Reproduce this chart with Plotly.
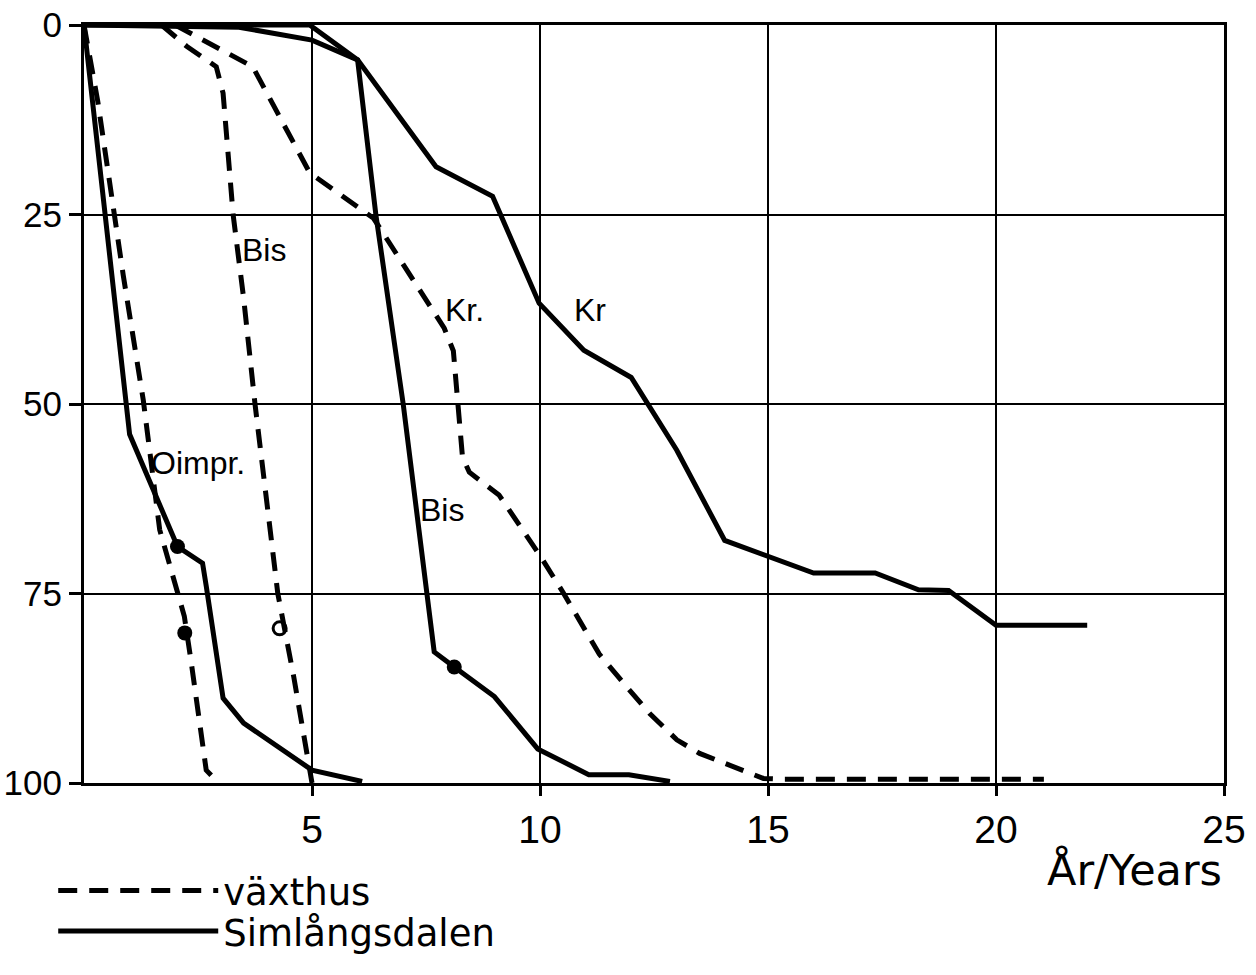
"""Lifetime curves of fence posts: växthus (dashed) vs Simlångsdalen (solid)."""

import plotly.graph_objects as go

# x = years, y = percent (0 at top)
# växthus (dashed)
oimpr_vx_x = [0, 0.3, 0.86, 1.3, 1.66, 2.2, 2.35, 2.68, 2.95]
oimpr_vx_y = [0, 10, 33, 49.5, 66.6, 78, 84, 98.3, 100]

bis_vx_x = [1.7, 2.25, 2.9, 3.05, 3.27, 3.5, 3.75, 4.05, 4.25, 4.6, 4.87, 5.0]
bis_vx_y = [0, 2.8, 5.5, 9, 25, 36, 50, 65, 75, 86, 95, 100]

kr_vx_x = [2.0, 3.7, 4.95, 6.35, 7.9, 8.1, 8.3, 8.45, 9.1, 10.0, 10.5, 11.3,
           11.9, 12.4, 13.0, 13.5, 14.9, 15.3, 21.05]
kr_vx_y = [0, 5.5, 19.5, 25.5, 40, 43, 57, 59, 62, 70, 74.8, 83,
           87.3, 90.8, 94.3, 96.1, 99.4, 99.5, 99.5]

# Simlångsdalen (solid)
oimpr_sim_x = [0, 1.0, 2.05, 2.6, 2.68, 3.05, 3.5, 5.0, 6.1]
oimpr_sim_y = [0, 54, 68.8, 71, 74, 88.8, 92.1, 98.3, 99.8]

bis_sim_x = [0, 4.95, 6.0, 6.4, 7.0, 7.5, 7.68, 8.12, 9.0, 9.95, 11.07, 11.95, 12.85]
bis_sim_y = [0, 0, 4.6, 25, 50, 74.5, 82.7, 84.7, 88.6, 95.5, 98.9, 98.9, 99.8]

kr_sim_x = [0, 3.4, 5.0, 6.0, 7.72, 8.96, 9.98, 10.96, 12.0, 13.0, 14.05,
            16.0, 17.35, 18.3, 18.96, 20.0, 22.0]
kr_sim_y = [0, 0.3, 2.0, 4.6, 18.7, 22.6, 36.7, 42.9, 46.5, 56.1, 68,
            72.3, 72.3, 74.5, 74.6, 79.2, 79.2]

# marked points on the curves
dot_x = [2.05, 2.21, 8.12]
dot_y = [68.8, 80.2, 84.7]
ring_x = [4.29]
ring_y = [79.6]

# curve labels
label_text = ['Bis', 'Oimpr.', 'Kr.', 'Kr', 'Bis']
label_x = [3.95, 2.5, 8.35, 11.1, 7.85]
label_y = [29.7, 57.8, 37.6, 37.6, 64]

x_ticks = [5, 10, 15, 20, 25]
y_ticks = [0, 25, 50, 75, 100]

BLACK = '#000000'
DASH = '19px,12px'
TICK_FONT = 'Liberation Sans, Arial, sans-serif'
TEXT_FONT = 'DejaVu Sans, Liberation Sans, sans-serif'

fig = go.Figure()

dashed = [(oimpr_vx_x, oimpr_vx_y), (bis_vx_x, bis_vx_y), (kr_vx_x, kr_vx_y)]
solid = [(oimpr_sim_x, oimpr_sim_y), (bis_sim_x, bis_sim_y), (kr_sim_x, kr_sim_y)]

for i, (xs, ys) in enumerate(dashed):
    fig.add_trace(go.Scatter(
        x=xs, y=ys, mode='lines', name='växthus',
        legend='legend', showlegend=(i == 0),
        line=dict(color=BLACK, width=5, dash=DASH),
    ))

for i, (xs, ys) in enumerate(solid):
    fig.add_trace(go.Scatter(
        x=xs, y=ys, mode='lines', name='Simlångsdalen',
        legend='legend2', showlegend=(i == 0),
        line=dict(color=BLACK, width=5),
    ))

fig.add_trace(go.Scatter(
    x=dot_x, y=dot_y, mode='markers', showlegend=False,
    marker=dict(color=BLACK, size=15),
))
fig.add_trace(go.Scatter(
    x=ring_x, y=ring_y, mode='markers', showlegend=False,
    marker=dict(color=BLACK, size=13, symbol='circle-open', line=dict(width=3)),
))

for t, lx, ly in zip(label_text, label_x, label_y):
    fig.add_annotation(
        x=lx, y=ly, text=t, showarrow=False,
        font=dict(family=TICK_FONT, size=32, color=BLACK),
    )

fig.add_annotation(
    x=1.0, xref='paper', xanchor='right',
    y=-0.115, yref='paper', yanchor='middle',
    text='År/Years', showarrow=False,
    font=dict(family=TEXT_FONT, size=43, color=BLACK),
)

legend_style = dict(
    x=-0.027, xanchor='left', yanchor='middle',
    font=dict(family=TEXT_FONT, size=37, color=BLACK),
    itemwidth=160, bgcolor='rgba(0,0,0,0)',
)

# legends kept high enough to fit the page, so the plot area is not shrunk
fig.update_layout(
    width=1256,
    height=975,
    margin=dict(l=84, r=32, t=25, b=192),
    paper_bgcolor='white',
    plot_bgcolor='white',
    showlegend=True,
    legend=dict(y=-0.1425, **legend_style),
    legend2=dict(y=-0.196, **legend_style),
    xaxis=dict(
        range=[0, 25], tickvals=x_ticks, automargin=False,
        showgrid=True, gridcolor=BLACK, gridwidth=2,
        showline=True, linecolor=BLACK, linewidth=3, mirror=True,
        ticks='outside', ticklen=10, tickwidth=3, tickcolor=BLACK,
        zeroline=False, ticklabeloverflow='allow',
        tickfont=dict(family=TICK_FONT, size=39, color=BLACK),
    ),
    yaxis=dict(
        range=[100, 0], tickvals=y_ticks, automargin=False,
        showgrid=True, gridcolor=BLACK, gridwidth=2,
        showline=True, linecolor=BLACK, linewidth=3, mirror=True,
        ticks='outside', ticklen=12, tickwidth=3, tickcolor=BLACK,
        zeroline=False, ticklabeloverflow='allow',
        tickfont=dict(family=TICK_FONT, size=35, color=BLACK),
    ),
)

# drop the default 8px page margin so the figure fills the window exactly
fig.write_html(
    'out.html',
    config={'displayModeBar': False},
    post_script="document.body.style.margin='0';"
                "document.documentElement.style.overflow='hidden';",
)
